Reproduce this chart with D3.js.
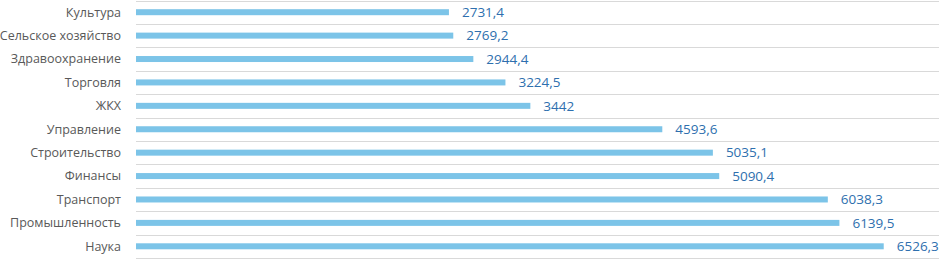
<!DOCTYPE html>
<html>
<head>
<meta charset="utf-8">
<script src="https://cdn.jsdelivr.net/npm/d3@7"></script>
<style>
  body { margin: 0; background: #fff; }
  svg { display: block; }
</style>
</head>
<body>
<svg id="chart" width="939" height="259"></svg>
<script>
// categories top to bottom
var categories = ["Культура", "Сельское хозяйство", "Здравоохранение", "Торговля", "ЖКХ",
  "Управление", "Строительство", "Финансы", "Транспорт", "Промышленность", "Наука"];
var values = [2731.4, 2769.2, 2944.4, 3224.5, 3442, 4593.6, 5035.1, 5090.4, 6038.3, 6139.5, 6526.3];
var valueLabels = ["2731,4", "2769,2", "2944,4", "3224,5", "3442", "4593,6", "5035,1", "5090,4", "6038,3", "6139,5", "6526,3"];

var svg = d3.select("#chart");
var margin = { left: 136, right: 1, top: 0.5, bottom: 1 };
var width = 939, height = 259;

var x = d3.scaleLinear().domain([0, 7000]).range([margin.left, width - margin.right]);
var y = d3.scaleBand().domain(categories).range([margin.top, height - margin.bottom]).paddingInner(0).paddingOuter(0);

// horizontal gridlines between bands
var edges = categories.map(function (c) { return y(c); });
edges.push(y(categories[categories.length - 1]) + y.bandwidth());
svg.append("g").selectAll("line")
  .data(edges)
  .join("line")
  .attr("x1", margin.left)
  .attr("x2", width)
  .attr("y1", function (d) { return Math.round(d) + 0.5; })
  .attr("y2", function (d) { return Math.round(d) + 0.5; })
  .attr("stroke", "#d9d9d9")
  .attr("stroke-width", 1);

var barH = 6;
svg.append("g").selectAll("rect")
  .data(values)
  .join("rect")
  .attr("x", x(0))
  .attr("y", function (d, i) { return y(categories[i]) + y.bandwidth() / 2 - barH / 2; })
  .attr("width", function (d) { return x(d) - x(0); })
  .attr("height", barH)
  .attr("fill", "#7cc4e8");

// category labels
svg.append("g").selectAll("text")
  .data(categories)
  .join("text")
  .attr("x", 121)
  .attr("y", function (d) { return y(d) + y.bandwidth() / 2; })
  .attr("dy", "0.35em")
  .attr("text-anchor", "end")
  .attr("fill", "#595959")
  .style("font-family", "'Open Sans', sans-serif")
  .style("font-size", "12.5px")
  .text(function (d) { return d; });

// value labels
svg.append("g").selectAll("text")
  .data(values)
  .join("text")
  .attr("x", function (d) { return x(d) + 13; })
  .attr("y", function (d, i) { return y(categories[i]) + y.bandwidth() / 2; })
  .attr("dy", "0.35em")
  .attr("fill", "#2e6fae")
  .style("font-family", "'Open Sans', sans-serif")
  .style("font-size", "13.5px")
  .text(function (d, i) { return valueLabels[i]; });
</script>
</body>
</html>
